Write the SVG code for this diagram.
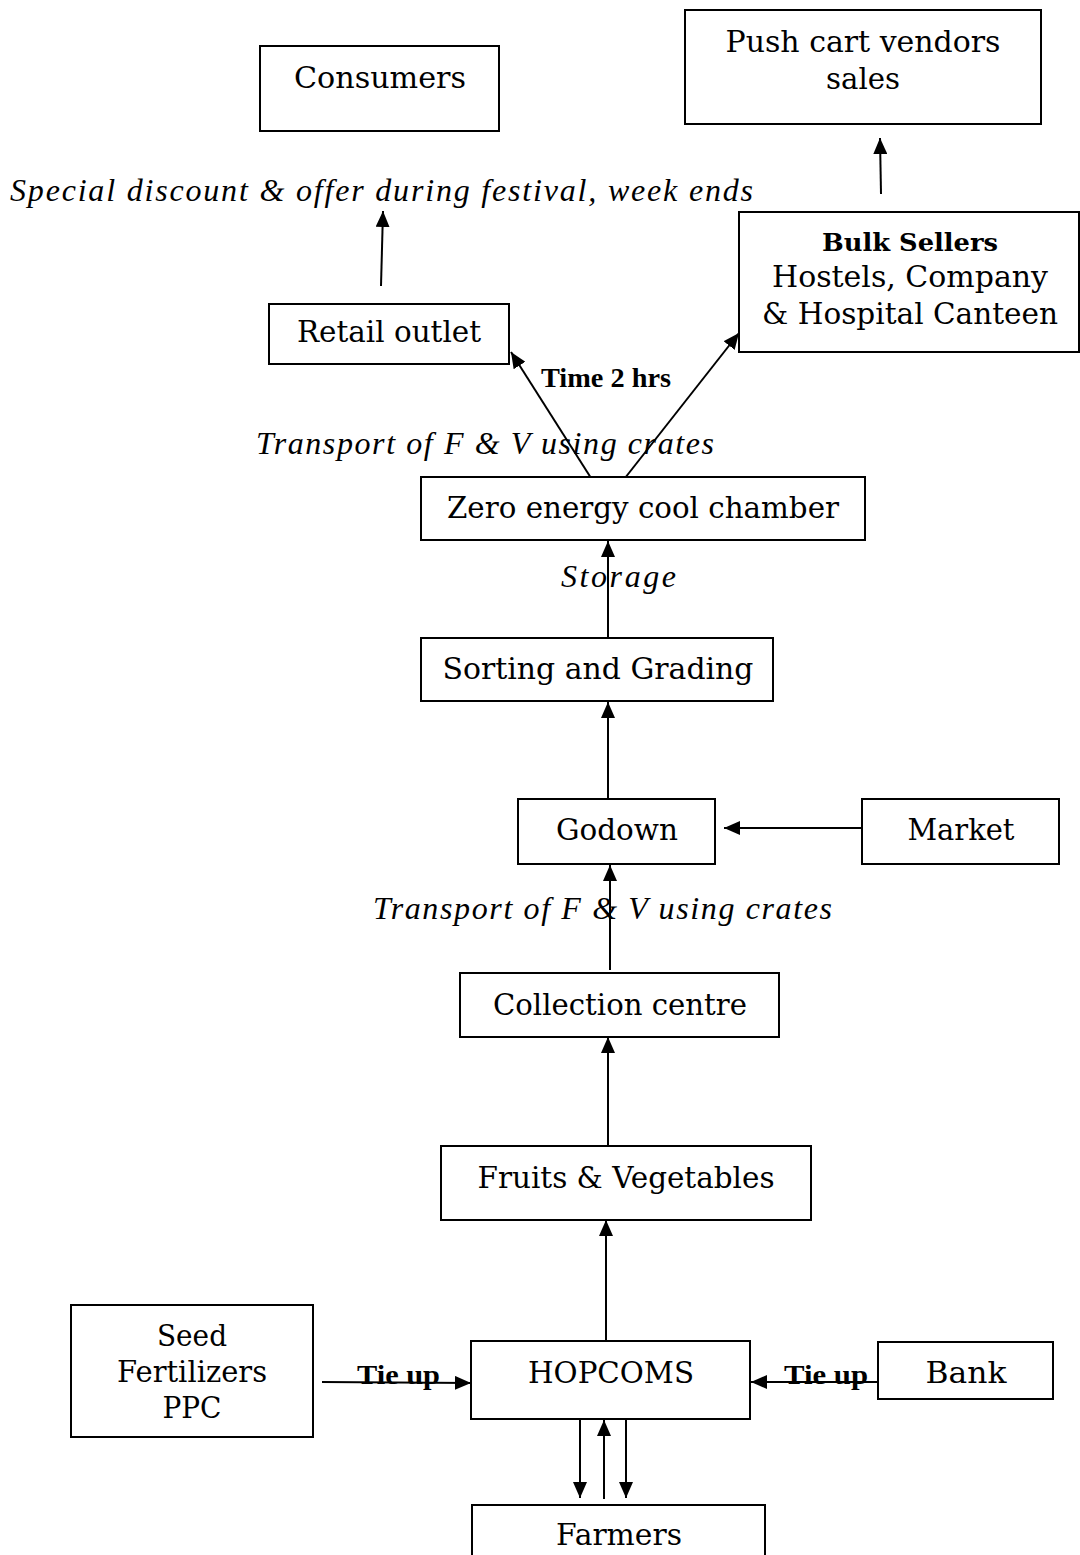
<svg xmlns="http://www.w3.org/2000/svg" width="1080" height="1555" viewBox="0 0 1080 1555">
<style>
.box{fill:#fff;stroke:#000;stroke-width:2}
.t{font-family:"DejaVu Serif","Liberation Serif",serif;font-size:29px;fill:#000;text-anchor:middle}
.tb{font-family:"DejaVu Serif","Liberation Serif",serif;font-size:25px;font-weight:bold;fill:#000;text-anchor:middle}
.it{font-family:"Liberation Serif",serif;font-style:italic;font-size:32px;fill:#000}
.bd{font-family:"Liberation Serif",serif;font-weight:bold;font-size:28px;fill:#000}
.c line{stroke:#000;stroke-width:2;marker-end:url(#ah)}
</style>
<defs>
<marker id="ah" viewBox="0 0 16 14" refX="16" refY="7" markerWidth="16" markerHeight="14" orient="auto" markerUnits="userSpaceOnUse"><path d="M0,0 L16,7 L0,14 z" fill="#000"/></marker>
</defs>
<rect width="1080" height="1555" fill="#fff"/>
<g class="c" id="connectors">
<line x1="381" y1="286" x2="383" y2="211"/>
<line x1="881" y1="194" x2="880" y2="138"/>
<line x1="591" y1="478" x2="511" y2="352"/>
<line x1="625" y1="478" x2="739" y2="333"/>
<line x1="608" y1="638" x2="608" y2="541"/>
<line x1="608" y1="799" x2="608" y2="702"/>
<line x1="862" y1="828" x2="724" y2="828"/>
<line x1="610" y1="970" x2="610" y2="865"/>
<line x1="608" y1="1146" x2="608" y2="1037"/>
<line x1="606" y1="1341" x2="606" y2="1220"/>
<line x1="322" y1="1382" x2="471" y2="1383"/>
<line x1="878" y1="1382" x2="751" y2="1382"/>
<line x1="580" y1="1419" x2="580" y2="1498"/>
<line x1="604" y1="1499" x2="604" y2="1420"/>
<line x1="626" y1="1419" x2="626" y2="1498"/>
</g>
<g id="labels">
<text class="it" x="10" y="201" textLength="743" lengthAdjust="spacing">Special discount &amp; offer during festival, week ends</text>
<text class="bd" x="541" y="387" textLength="130" lengthAdjust="spacingAndGlyphs">Time 2 hrs</text>
<text class="it" x="256" y="454" textLength="458" lengthAdjust="spacing">Transport of F &amp; V using crates</text>
<text class="it" x="561" y="587" textLength="115" lengthAdjust="spacing">Storage</text>
<text class="it" x="373" y="919" textLength="459" lengthAdjust="spacing">Transport of F &amp; V using crates</text>
<text class="bd" x="357" y="1384" textLength="83" lengthAdjust="spacingAndGlyphs">Tie up</text>
<text class="bd" x="784" y="1384" textLength="84" lengthAdjust="spacingAndGlyphs">Tie up</text>
</g>
<g id="consumers"><rect class="box" x="260" y="46" width="239" height="85"/><text class="t" x="380" y="88" textLength="172" lengthAdjust="spacingAndGlyphs">Consumers</text></g>
<g id="pushcart"><rect class="box" x="685" y="10" width="356" height="114"/><text class="t" x="863" y="52" textLength="275" lengthAdjust="spacingAndGlyphs">Push cart vendors</text><text class="t" x="863" y="89" textLength="74" lengthAdjust="spacingAndGlyphs">sales</text></g>
<g id="bulk"><rect class="box" x="739" y="212" width="340" height="140"/><text class="tb" x="910" y="251" textLength="176" lengthAdjust="spacingAndGlyphs">Bulk Sellers</text><text class="t" x="910" y="287" textLength="276" lengthAdjust="spacingAndGlyphs">Hostels, Company</text><text class="t" x="910" y="324" textLength="296" lengthAdjust="spacingAndGlyphs">&amp; Hospital Canteen</text></g>
<g id="retail"><rect class="box" x="269" y="304" width="240" height="60"/><text class="t" x="389" y="342" textLength="184" lengthAdjust="spacingAndGlyphs">Retail outlet</text></g>
<g id="zero"><rect class="box" x="421" y="477" width="444" height="63"/><text class="t" x="643" y="518" textLength="392" lengthAdjust="spacingAndGlyphs">Zero energy cool chamber</text></g>
<g id="sorting"><rect class="box" x="421" y="638" width="352" height="63"/><text class="t" x="598" y="679" textLength="311" lengthAdjust="spacingAndGlyphs">Sorting and Grading</text></g>
<g id="godown"><rect class="box" x="518" y="799" width="197" height="65"/><text class="t" x="617" y="840" textLength="122" lengthAdjust="spacingAndGlyphs">Godown</text></g>
<g id="market"><rect class="box" x="862" y="799" width="197" height="65"/><text class="t" x="961" y="840" textLength="107" lengthAdjust="spacingAndGlyphs">Market</text></g>
<g id="collection"><rect class="box" x="460" y="973" width="319" height="64"/><text class="t" x="620" y="1015" textLength="254" lengthAdjust="spacingAndGlyphs">Collection centre</text></g>
<g id="fruits"><rect class="box" x="441" y="1146" width="370" height="74"/><text class="t" x="626" y="1188" textLength="297" lengthAdjust="spacingAndGlyphs">Fruits &amp; Vegetables</text></g>
<g id="seed"><rect class="box" x="71" y="1305" width="242" height="132"/><text class="t" x="192" y="1346" textLength="70" lengthAdjust="spacingAndGlyphs">Seed</text><text class="t" x="192" y="1382" textLength="150" lengthAdjust="spacingAndGlyphs">Fertilizers</text><text class="t" x="192" y="1418" textLength="59" lengthAdjust="spacingAndGlyphs">PPC</text></g>
<g id="hopcoms"><rect class="box" x="471" y="1341" width="279" height="78"/><text class="t" x="611" y="1383" textLength="166" lengthAdjust="spacingAndGlyphs">HOPCOMS</text></g>
<g id="bank"><rect class="box" x="878" y="1342" width="175" height="57"/><text class="t" x="966" y="1383" textLength="81" lengthAdjust="spacingAndGlyphs">Bank</text></g>
<g id="farmers"><rect class="box" x="472" y="1505" width="293" height="60"/><text class="t" x="619" y="1545" textLength="126" lengthAdjust="spacingAndGlyphs">Farmers</text></g>
</svg>
